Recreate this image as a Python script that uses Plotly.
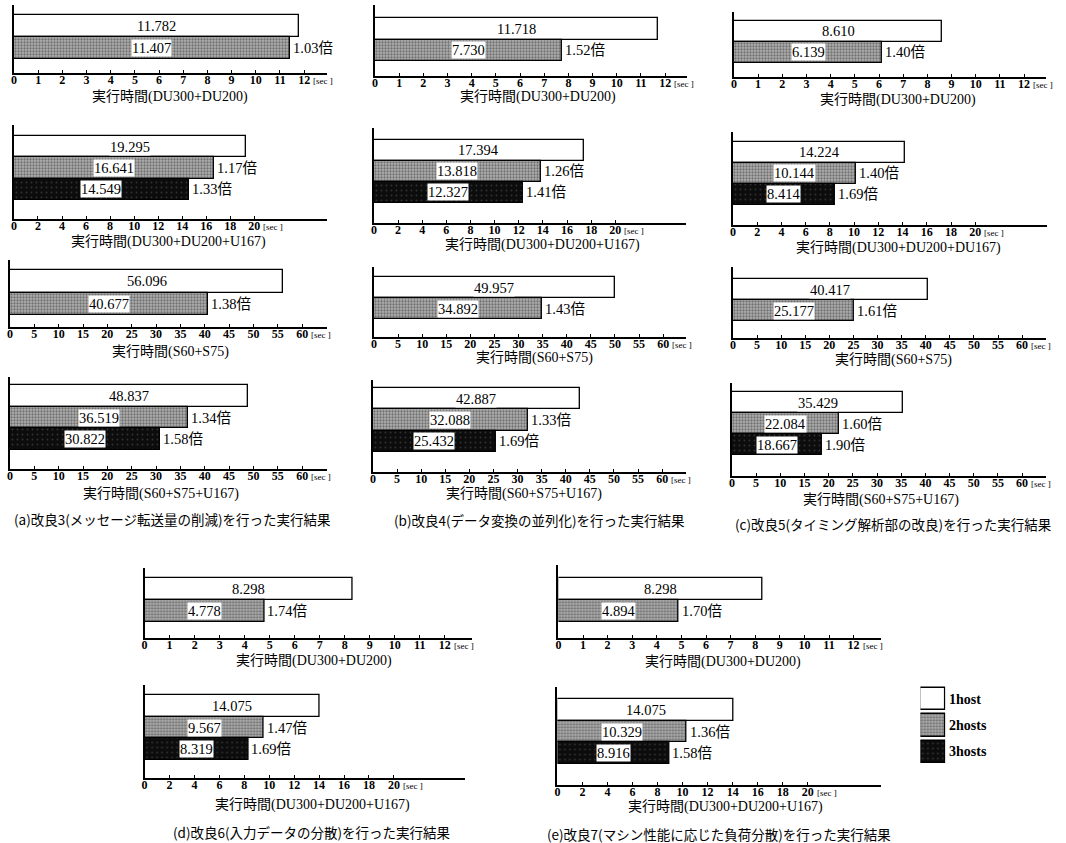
import plotly.graph_objects as go

# ---------------- data ----------------
hosts = ["1host", "2hosts", "3hosts"]

times_a = [[11.782, 11.407], [19.295, 16.641, 14.549], [56.096, 40.677], [48.837, 36.519, 30.822]]
ratios_a = [[1.03], [1.17, 1.33], [1.38], [1.34, 1.58]]
times_b = [[11.718, 7.730], [17.394, 13.818, 12.327], [49.957, 34.892], [42.887, 32.088, 25.432]]
ratios_b = [[1.52], [1.26, 1.41], [1.43], [1.33, 1.69]]
times_c = [[8.610, 6.139], [14.224, 10.144, 8.414], [40.417, 25.177], [35.429, 22.084, 18.667]]
ratios_c = [[1.40], [1.40, 1.69], [1.61], [1.60, 1.90]]
times_d = [[8.298, 4.778], [14.075, 9.567, 8.319]]
ratios_d = [[1.74], [1.47, 1.69]]
times_e = [[8.298, 4.894], [14.075, 10.329, 8.916]]
ratios_e = [[1.70], [1.36, 1.58]]

workloads_abc = ["DU300+DU200", "DU300+DU200+U167", "S60+S75", "S60+S75+U167"]
workloads_c = ["DU300+DU200", "DU300+DU200+DU167", "S60+S75", "S60+S75+U167"]
workloads_de = ["DU300+DU200", "DU300+DU200+U167"]
tick_max_abc = [12, 20, 60, 60]
tick_step_abc = [1, 2, 5, 5]
tick_max_de = [12, 20]
tick_step_de = [1, 2]
axis_prefix = "実行時間"
unit_label = "[sec ]"
ratio_suffix = "倍"

captions = [
    "(a)改良3(メッセージ転送量の削減)を行った実行結果",
    "(b)改良4(データ変換の並列化)を行った実行結果",
    "(c)改良5(タイミング解析部の改良)を行った実行結果",
    "(d)改良6(入力データの分散)を行った実行結果",
    "(e)改良7(マシン性能に応じた負荷分散)を行った実行結果",
]

# ---------------- layout geometry (pixels) ----------------
W, H = 1066, 843
# (x0, x_of_last_tick, x_axis_end, y_axis_top, first_bar_top, last_bar_bottom, baseline, title_x, title_y)
geom = {
    "a": [(11, 302, 325, 5, 15, 59, 73, 167, 97),
          (11, 252, 325, 125, 136, 200, 219, 166, 242),
          (7, 300, 325, 260, 270, 315, 327, 168, 352),
          (7, 300, 325, 377, 385, 450, 469, 158, 494)],
    "b": [(373, 664, 686, 5, 18, 61, 76, 537, 97),
          (372, 614, 685, 128, 140, 203, 223, 541, 245),
          (372, 662, 685, 267, 277, 319, 337, 533, 358),
          (371, 661, 685, 380, 388, 452, 472, 522, 494)],
    "c": [(733, 1024, 1046, 12, 21, 63, 77, 898, 100),
          (732, 975, 1047, 132, 142, 205, 225, 898, 248),
          (732, 1022, 1046, 267, 279, 321, 338, 893, 360),
          (731, 1022, 1046, 383, 392, 455, 476, 880, 500)],
    "d": [(142, 443, 470, 568, 578, 622, 638, 312, 661),
          (142, 392, 463, 685, 695, 760, 778, 310, 805)],
    "e": [(557, 853, 880, 565, 578, 622, 638, 722, 662),
          (556, 807, 880, 687, 699, 764, 785, 725, 807)],
}
caption_pos = [(170, 519), (538, 520), (893, 524), (310, 832), (718, 834)]

groups = [
    ("a", times_a, ratios_a, workloads_abc, tick_max_abc, tick_step_abc),
    ("b", times_b, ratios_b, workloads_abc, tick_max_abc, tick_step_abc),
    ("c", times_c, ratios_c, workloads_c, tick_max_abc, tick_step_abc),
    ("d", times_d, ratios_d, workloads_de, tick_max_de, tick_step_de),
    ("e", times_e, ratios_e, workloads_de, tick_max_de, tick_step_de),
]

styles = [
    dict(color="white", pattern=None),
    dict(color="#999999", pattern=dict(shape=".", fgcolor="#2e2e2e", bgcolor="#b0b0b0", size=3, solidity=0.45)),
    dict(color="#111111", pattern=dict(shape=".", fgcolor="#5a5a5a", bgcolor="#0c0c0c", size=5, solidity=0.1)),
]

NUM_FONT = "Liberation Serif, Noto Sans CJK JP"
fig = go.Figure()
layout = dict(
    width=W, height=H, margin=dict(l=0, r=0, t=0, b=0),
    paper_bgcolor="white", plot_bgcolor="rgba(0,0,0,0)",
    showlegend=False, bargap=0,
)
annotations = []

k = 0
for gname, times, ratios, workloads, tmaxs, tsteps in groups:
    for p, vals in enumerate(times):
        k += 1
        x0, xt, xend, ytop, bt, bb, base, tx, ty = geom[gname][p]
        n = len(vals)
        tmax, tstep = tmaxs[p], tsteps[p]
        xr = tmax * (xend - x0) / (xt - x0)
        h = (bb - bt) / n
        r_top = -0.5 - (bt - ytop) / h
        r_bot = n - 0.5 + (base - bb) / h
        xa = "x" if k == 1 else f"x{k}"
        ya = "y" if k == 1 else f"y{k}"
        for i, v in enumerate(vals):
            st = styles[i]
            marker = dict(color=st["color"], line=dict(color="black", width=1.3))
            if st["pattern"]:
                marker["pattern"] = st["pattern"]
            fig.add_trace(go.Bar(x=[v], y=[i], orientation="h", width=1, marker=marker,
                                 xaxis=xa, yaxis=ya, hoverinfo="skip", name=hosts[i]))
            annotations.append(dict(x=v / 2, y=i, xref=xa, yref=ya, text=f"{v:.3f}", showarrow=False,
                                    xanchor="center", yanchor="middle",
                                    font=dict(family=NUM_FONT, size=14.5, color="black"),
                                    bgcolor="white", borderpad=0))
            if i > 0:
                annotations.append(dict(x=v, y=i, xref=xa, yref=ya,
                                        text=f"{ratios[p][i-1]:.2f}{ratio_suffix}", showarrow=False,
                                        xanchor="left", yanchor="middle", xshift=1,
                                        font=dict(family=NUM_FONT, size=14.5, color="black")))
        layout["xaxis" if k == 1 else f"xaxis{k}"] = dict(
            domain=[x0 / W, xend / W], range=[0, xr], anchor=ya,
            showline=True, linecolor="black", linewidth=2,
            ticks="inside", ticklen=3, tickwidth=1, tickcolor="black",
            tickvals=list(range(0, tmax + 1, tstep)), ticklabelstandoff=-5,
            tickfont=dict(family=NUM_FONT, size=12, color="black", weight="bold"),
            showgrid=False, zeroline=False, fixedrange=True,
        )
        layout["yaxis" if k == 1 else f"yaxis{k}"] = dict(
            domain=[1 - base / H, 1 - ytop / H], range=[r_bot, r_top], anchor=xa,
            showline=True, linecolor="black", linewidth=2,
            showticklabels=False, ticks="", showgrid=False, zeroline=False, fixedrange=True,
        )
        annotations.append(dict(x=tmax, y=0, xref=xa, yref=f"{ya} domain", text=unit_label,
                                showarrow=False, xanchor="left", yanchor="top", xshift=7, yshift=-1,
                                font=dict(family=NUM_FONT, size=9, color="black")))
        annotations.append(dict(x=tx / W, y=1 - ty / H, xref="paper", yref="paper",
                                xanchor="center", yanchor="middle",
                                text=f"{axis_prefix}({workloads[p]})", showarrow=False,
                                font=dict(family=NUM_FONT, size=14, color="black")))

for cap, (cx, cy) in zip(captions, caption_pos):
    annotations.append(dict(x=cx / W, y=1 - cy / H, xref="paper", yref="paper", text=cap,
                            xanchor="center", yanchor="middle",
                            showarrow=False, font=dict(family="Noto Sans CJK JP", size=13.5, color="black")))

# legend key drawn on a small axis
k += 1
xa, ya = f"x{k}", f"y{k}"
for i, hname in enumerate(hosts):
    st = styles[i]
    marker = dict(color=st["color"], line=dict(color="black", width=1.5))
    if st["pattern"]:
        marker["pattern"] = st["pattern"]
    fig.add_trace(go.Bar(x=[1], y=[i], orientation="h", width=0.84, marker=marker,
                         xaxis=xa, yaxis=ya, hoverinfo="skip", name=hname))
    annotations.append(dict(x=1, y=i, xref=xa, yref=ya, text=hname, showarrow=False,
                            xanchor="left", yanchor="middle", xshift=2,
                            font=dict(family=NUM_FONT, size=14, color="black", weight="bold")))
layout[f"xaxis{k}"] = dict(domain=[920 / W, 945 / W], range=[0, 1], anchor=ya, visible=False, fixedrange=True)
layout[f"yaxis{k}"] = dict(domain=[1 - 765 / H, 1 - 686 / H], range=[2.5, -0.5], anchor=xa,
                           visible=False, fixedrange=True)

layout["annotations"] = annotations
fig.update_layout(**layout)
fig.write_html("out.html", config={"displayModeBar": False},
               post_script="document.body.style.margin='0';document.body.style.padding='0';")
